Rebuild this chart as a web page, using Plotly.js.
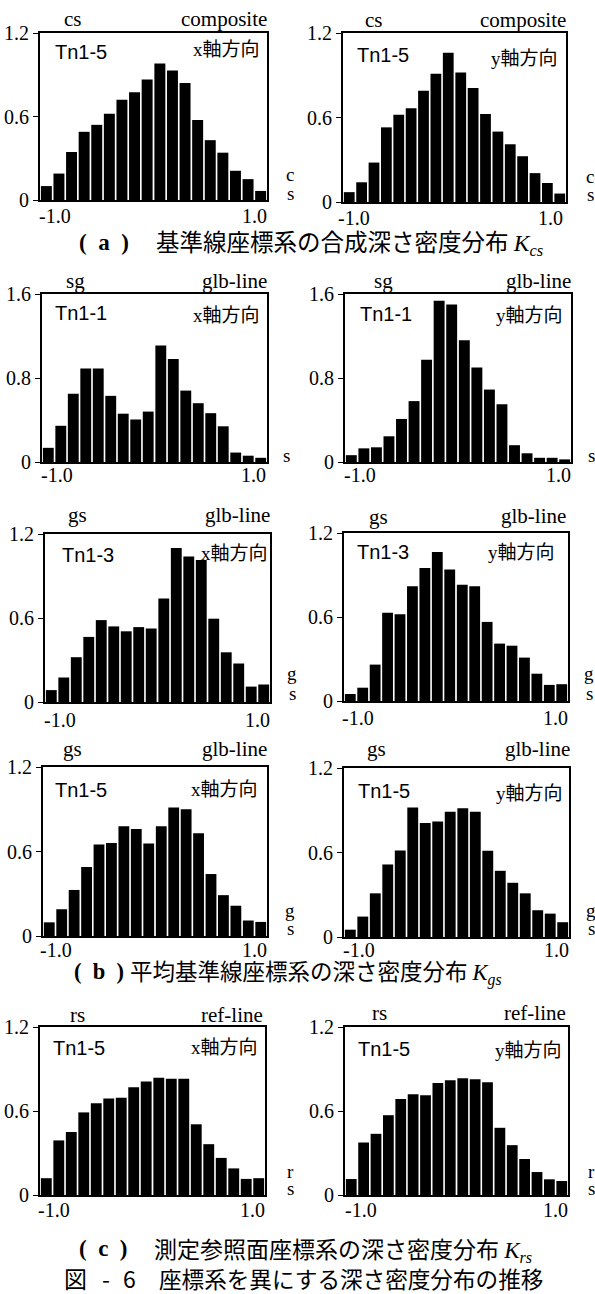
<!DOCTYPE html>
<html><head><meta charset="utf-8">
<script src="https://cdn.plot.ly/plotly-3.0.1.min.js"></script>
<style>body{margin:0;background:#fff}#chart{width:595px;height:1294px}</style>
</head><body><div id="chart"></div>
<script>
// ---- data ----
const binCenters = [-0.944,-0.833,-0.722,-0.611,-0.5,-0.389,-0.278,-0.167,-0.056,0.056,0.167,0.278,0.389,0.5,0.611,0.722,0.833,0.944];
const csX  = [0.10,0.19,0.345,0.49,0.54,0.62,0.72,0.775,0.865,0.98,0.93,0.84,0.575,0.43,0.34,0.21,0.15,0.065];
const csY  = [0.07,0.14,0.28,0.53,0.62,0.665,0.79,0.91,1.06,0.92,0.81,0.625,0.50,0.41,0.325,0.205,0.135,0.06];
const sgX1 = [0.135,0.345,0.65,0.89,0.89,0.63,0.46,0.405,0.48,1.11,0.98,0.68,0.56,0.465,0.34,0.09,0.06,0.04];
const sgY1 = [0.065,0.13,0.14,0.245,0.41,0.58,0.975,1.535,1.50,1.16,0.90,0.69,0.55,0.16,0.083,0.04,0.04,0.025];
const gsX3 = [0.085,0.175,0.32,0.465,0.585,0.54,0.505,0.535,0.525,0.74,1.10,1.04,1.015,0.595,0.355,0.275,0.11,0.125];
const gsY3 = [0.05,0.095,0.26,0.63,0.62,0.82,0.95,1.065,0.94,0.83,0.82,0.565,0.41,0.395,0.31,0.195,0.115,0.12];
const gsX5 = [0.097,0.19,0.327,0.49,0.65,0.66,0.78,0.76,0.657,0.78,0.913,0.90,0.73,0.44,0.29,0.215,0.11,0.10];
const gsY5 = [0.052,0.145,0.31,0.515,0.615,0.92,0.81,0.82,0.89,0.915,0.89,0.613,0.47,0.385,0.31,0.19,0.166,0.105];
const rsX5 = [0.12,0.39,0.45,0.59,0.655,0.69,0.695,0.77,0.81,0.837,0.83,0.83,0.505,0.363,0.265,0.19,0.115,0.12];
const rsY5 = [0.114,0.375,0.437,0.57,0.685,0.72,0.713,0.80,0.82,0.834,0.827,0.805,0.48,0.356,0.257,0.164,0.112,0.10];

const yTickVals12 = [0,0.6,1.2], yTickText12 = ['0','0.6','1.2'];
const yTickVals16 = [0,0.8,1.6], yTickText16 = ['0','0.8','1.6'];
const xTickText = ['-1.0','1.0'];

// ---- layout (pixel positions) ----
const W = 595, H = 1294;
const SERIF = 'Liberation Serif, Times New Roman, serif';
const SANS = 'Liberation Sans, Arial, sans-serif';
const MIX = 'Liberation Serif, Noto Sans CJK JP, serif';
const CJK = 'Noto Sans CJK JP, sans-serif';

const panels = [
 {vals:csX, ymax:1.2, tv:yTickVals12, tt:yTickText12, tl:'cs', tr:'composite', run:'Tn1-5', dir:'x軸方向',
  box:[40,267,33,200], ptl:[73,19], ptr:[267,19], prun:[55,52], pdir:[260,50], pxl:[39,216], pxr:[267,216], side:[['c',290,175],['s',290,193]]},
 {vals:csY, ymax:1.2, tv:yTickVals12, tt:yTickText12, tl:'cs', tr:'composite', run:'Tn1-5', dir:'y軸方向',
  box:[343,566,33,202], ptl:[374,20], ptr:[566,20], prun:[357,55], pdir:[558,58], pxl:[338,218], pxr:[563,218], side:[['c',590,176],['s',590,194]]},
 {vals:sgX1, ymax:1.6, tv:yTickVals16, tt:yTickText16, tl:'sg', tr:'glb-line', run:'Tn1-1', dir:'x軸方向',
  box:[42,267,294,462], ptl:[75,281], ptr:[267,281], prun:[55,313], pdir:[260,315], pxl:[41,475], pxr:[266,475], side:[['s',286,455]]},
 {vals:sgY1, ymax:1.6, tv:yTickVals16, tt:yTickText16, tl:'sg', tr:'glb-line', run:'Tn1-1', dir:'y軸方向',
  box:[345,571,294,462], ptl:[383,281], ptr:[571,281], prun:[360,314], pdir:[563,315], pxl:[344,475], pxr:[571,475], side:[['s',591,455]]},
 {vals:gsX3, ymax:1.2, tv:yTickVals12, tt:yTickText12, tl:'gs', tr:'glb-line', run:'Tn1-3', dir:'x軸方向',
  box:[45,270,534,702], ptl:[77,515], ptr:[270,515], prun:[62,555], pdir:[268,553], pxl:[44,720], pxr:[270,720], side:[['g',292,673],['s',292,693]]},
 {vals:gsY3, ymax:1.2, tv:yTickVals12, tt:yTickText12, tl:'gs', tr:'glb-line', run:'Tn1-3', dir:'y軸方向',
  box:[344,568,533,701], ptl:[378,517], ptr:[566,516], prun:[357,552], pdir:[555,552], pxl:[342,718], pxr:[568,718], side:[['g',589,673],['s',589,693]]},
 {vals:gsX5, ymax:1.2, tv:yTickVals12, tt:yTickText12, tl:'gs', tr:'glb-line', run:'Tn1-5', dir:'x軸方向',
  box:[43,267,767,936], ptl:[72,749], ptr:[267,749], prun:[55,790], pdir:[258,789], pxl:[40,950], pxr:[267,950], side:[['g',290,910],['s',290,928]]},
 {vals:gsY5, ymax:1.2, tv:yTickVals12, tt:yTickText12, tl:'gs', tr:'glb-line', run:'Tn1-5', dir:'y軸方向',
  box:[344,569,768,937], ptl:[376,749], ptr:[570,749], prun:[358,791], pdir:[563,793], pxl:[343,950], pxr:[569,950], side:[['g',591,910],['s',591,928]]},
 {vals:rsX5, ymax:1.2, tv:yTickVals12, tt:yTickText12, tl:'rs', tr:'ref-line', run:'Tn1-5', dir:'x軸方向',
  box:[40,265,1027,1195], ptl:[77,1015], ptr:[263,1015], prun:[53,1048], pdir:[258,1047], pxl:[38,1210], pxr:[265,1210], side:[['r',290,1171],['s',290,1188]]},
 {vals:rsY5, ymax:1.2, tv:yTickVals12, tt:yTickText12, tl:'rs', tr:'ref-line', run:'Tn1-5', dir:'y軸方向',
  box:[345,568,1027,1195], ptl:[379,1013], ptr:[566,1013], prun:[358,1049], pdir:[562,1050], pxl:[345,1210], pxr:[568,1210], side:[['r',591,1171],['s',591,1188]]}
];

const px = x => x / W, py = y => 1 - y / H;
function ann(text, x, y, xanchor, size, family, extra) {
  return Object.assign({text, x: px(x), y: py(y), xref:'paper', yref:'paper', xanchor, yanchor:'middle',
    showarrow:false, borderpad:0, borderwidth:0, font:{size, family, color:'#000'}}, extra || {});
}

const data = [], annotations = [];
const layout = {width:W, height:H, margin:{l:0,r:0,t:0,b:0}, paper_bgcolor:'#fff', plot_bgcolor:'#fff',
  showlegend:false, bargap:0.13};

panels.forEach((p, i) => {
  const n = i === 0 ? '' : String(i + 1);
  data.push({type:'bar', x:binCenters, y:p.vals, xaxis:'x'+n, yaxis:'y'+n,
    marker:{color:'#000', line:{width:0}}, hoverinfo:'skip'});
  const [x0,x1,y0,y1] = p.box;
  layout['xaxis'+n] = {domain:[px(x0), px(x1)], anchor:'y'+n, range:[-1,1], showgrid:false, zeroline:false,
    showline:true, mirror:true, linewidth:2, linecolor:'#000', ticks:'', showticklabels:false, fixedrange:true};
  layout['yaxis'+n] = {domain:[py(y1), py(y0)], anchor:'x'+n, range:[0,p.ymax], showgrid:false, zeroline:false,
    showline:true, mirror:true, linewidth:2, linecolor:'#000', ticks:'outside', ticklen:5, tickwidth:1, tickcolor:'#000',
    tickvals:p.tv, ticktext:p.tt, tickfont:{size:20, family:SERIF, color:'#000'}, fixedrange:true};
  annotations.push(ann(p.tl, p.ptl[0], p.ptl[1], 'center', 21, SERIF));
  annotations.push(ann(p.tr, p.ptr[0], p.ptr[1], 'right', 21, SERIF));
  annotations.push(ann(p.run, p.prun[0], p.prun[1], 'left', 20, SANS));
  annotations.push(ann(p.dir, p.pdir[0], p.pdir[1], 'right', 19, MIX));
  annotations.push(ann(xTickText[0], p.pxl[0], p.pxl[1], 'left', 20, SERIF));
  annotations.push(ann(xTickText[1], p.pxr[0], p.pxr[1], 'right', 20, SERIF));
  p.side.forEach(s => annotations.push(ann(s[0], s[1], s[2], 'center', 19, SERIF)));
});

// captions
const K = (sub) => '<span style="font-family:Liberation Serif"><i>K</i><sub><i>' + sub + '</i></sub></span>';
const EN = '\u2002';
annotations.push(ann('<b>(' + EN + 'a' + EN + ')</b>', 104, 242, 'center', 23, SERIF));
annotations.push(ann('基準線座標系の合成深さ密度分布 ' + K('cs'), 156, 242, 'left', 23.5, CJK));
annotations.push(ann('<b>(' + EN + 'b' + EN + ')</b>', 99, 972, 'center', 22.5, SERIF));
annotations.push(ann('平均基準線座標系の深さ密度分布 ' + K('gs'), 130, 972, 'left', 22.5, CJK));
annotations.push(ann('<b>(' + EN + 'c' + EN + ')</b>', 103, 1248, 'center', 23, SERIF));
annotations.push(ann('測定参照面座標系の深さ密度分布 ' + K('rs'), 154, 1248, 'left', 23, CJK));
annotations.push(ann('図', 75, 1278, 'center', 23, CJK));
annotations.push(ann('-', 106, 1278, 'center', 23, CJK));
annotations.push(ann('6', 129, 1278, 'center', 23, CJK));
annotations.push(ann('座標系を異にする深さ密度分布の推移', 159, 1278, 'left', 22.6, CJK));

layout.annotations = annotations;
Plotly.newPlot('chart', data, layout, {staticPlot:true, displayModeBar:false});
</script>
</body></html>
